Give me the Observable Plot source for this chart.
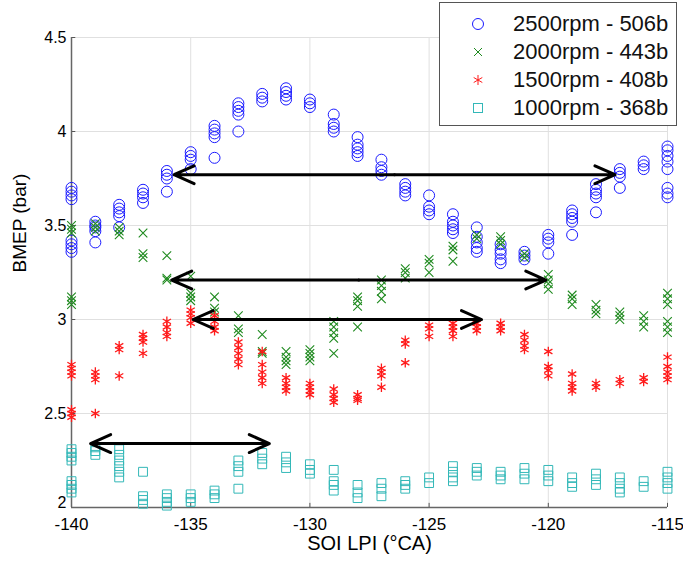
<!DOCTYPE html>
<html><head><meta charset="utf-8">
<script src="https://cdn.jsdelivr.net/npm/d3@7"></script>
<script src="https://cdn.jsdelivr.net/npm/@observablehq/plot@0.6"></script>
<style>
body{margin:0;background:#fff;font-family:"Liberation Sans",Arial,sans-serif;}
#wrap{position:relative;width:683px;height:564px;}
#legend{position:absolute;left:439px;top:2px;width:236px;height:122px;border:1px solid #555;background:#fff;}
.row{position:absolute;left:0;width:236px;height:28px;}
.row svg{position:absolute;left:28px;top:0;}
.row span{position:absolute;left:73px;top:0;line-height:28px;font-size:22px;color:#111;white-space:nowrap;}
</style>
</head><body>
<div id="wrap"><div id="chart"></div><div id="legend"></div></div>
<script>
// SOI LPI positions (°CA)
const soi = [-140,-139,-138,-137,-136,-135,-134,-133,-132,-131,-130,-129,-128,-127,-126,-125,-124,-123,-122,-121,-120,-119,-118,-117,-116,-115];

// BMEP (bar), several cycles per SOI position
const bmep2500 = [
 [3.70,3.68,3.66,3.64,3.42,3.40,3.38,3.36],
 [3.52,3.50,3.49,3.47,3.41],
 [3.61,3.59,3.57,3.55,3.49],
 [3.69,3.67,3.65,3.62],
 [3.79,3.77,3.75,3.68],
 [3.89,3.87,3.85,3.80],
 [4.03,4.01,3.99,3.97,3.86],
 [4.15,4.13,4.11,4.09,4.00],
 [4.20,4.18,4.16],
 [4.23,4.21,4.19,4.17],
 [4.17,4.15,4.13],
 [4.09,4.04,4.02,4.00],
 [3.97,3.93,3.91,3.89,3.87],
 [3.85,3.81,3.79,3.77],
 [3.72,3.70,3.68,3.66],
 [3.66,3.60,3.58,3.56],
 [3.56,3.52,3.50,3.48,3.46],
 [3.49,3.44,3.41,3.38,3.36],
 [3.40,3.37,3.35,3.32,3.30],
 [3.36,3.34,3.32],
 [3.45,3.43,3.41,3.35],
 [3.58,3.56,3.54,3.52,3.45],
 [3.72,3.69,3.67,3.65,3.57],
 [3.80,3.78,3.76,3.70],
 [3.84,3.82,3.80],
 [3.92,3.90,3.87,3.84,3.80,3.70,3.67,3.65]
];
const bmep2000 = [
 [3.50,3.48,3.46,3.12,3.10,3.08],
 [3.51,3.49,3.47],
 [3.49,3.47,3.45],
 [3.46,3.35,3.33],
 [3.34,3.22,3.21],
 [3.23,3.14,3.12,3.10],
 [3.12,3.06,3.04],
 [3.02,2.95,2.93],
 [2.92,2.83,2.82],
 [2.83,2.80,2.78,2.76],
 [2.84,2.82,2.80,2.78],
 [2.99,2.96,2.93,2.90,2.82],
 [3.12,3.10,3.07,2.96],
 [3.21,3.18,3.15,3.11],
 [3.27,3.25,3.22],
 [3.32,3.30,3.25],
 [3.39,3.37,3.31],
 [3.45,3.43],
 [3.44,3.42,3.40],
 [3.35,3.33],
 [3.24,3.21,3.19,3.16],
 [3.13,3.11,3.08],
 [3.08,3.05,3.03],
 [3.04,3.02,3.00],
 [3.02,2.99,2.96],
 [3.14,3.11,3.08,2.99,2.96,2.93]
];
const bmep1500 = [
 [2.76,2.74,2.72,2.70,2.52,2.50,2.48],
 [2.72,2.70,2.68,2.50],
 [2.86,2.84,2.70],
 [2.92,2.90,2.88,2.82],
 [2.99,2.96,2.93,2.91],
 [3.05,3.03,3.01,2.98],
 [3.02,2.99,2.96,2.94],
 [2.88,2.85,2.82,2.79,2.76],
 [2.83,2.76,2.72,2.69,2.66],
 [2.69,2.66,2.64,2.62],
 [2.66,2.64,2.62,2.60],
 [2.63,2.60,2.58,2.56],
 [2.60,2.58,2.57],
 [2.74,2.72,2.70,2.64],
 [2.89,2.87,2.77],
 [2.97,2.95,2.91],
 [2.98,2.96,2.94,2.91],
 [2.98,2.96,2.94],
 [2.98,2.96,2.94],
 [2.92,2.89,2.86,2.84],
 [2.83,2.75,2.73,2.70],
 [2.71,2.66,2.64,2.62],
 [2.66,2.64],
 [2.68,2.66],
 [2.69,2.67],
 [2.80,2.75,2.72,2.70,2.68]
];
const bmep1000 = [
 [2.31,2.29,2.27,2.25,2.14,2.12,2.10,2.08],
 [2.32,2.30,2.28],
 [2.31,2.28,2.25,2.22,2.19,2.16],
 [2.19,2.06,2.04,2.02],
 [2.07,2.05,2.03,2.01],
 [2.07,2.05,2.03],
 [2.09,2.07,2.05],
 [2.25,2.22,2.19,2.10],
 [2.29,2.26,2.23],
 [2.27,2.24,2.21],
 [2.23,2.20,2.18],
 [2.20,2.14,2.12,2.09],
 [2.12,2.08,2.05],
 [2.13,2.10,2.06],
 [2.14,2.12,2.10],
 [2.16,2.13],
 [2.22,2.19,2.16,2.14],
 [2.21,2.19,2.17],
 [2.19,2.17,2.15],
 [2.21,2.18,2.15],
 [2.20,2.17,2.14],
 [2.16,2.13,2.11],
 [2.18,2.15,2.12],
 [2.16,2.13,2.10,2.08],
 [2.14,2.11],
 [2.19,2.16,2.13,2.10]
];

// Series labels
const seriesNames = ["2500rpm - 506b","2000rpm - 443b","1500rpm - 408b","1000rpm - 368b"];

// Double-headed arrows: start SOI, end SOI, BMEP level
const arrowStart = [-135.7, -135.8, -134.9, -139.2];
const arrowEnd   = [-117.2, -120.1, -122.8, -131.7];
const arrowLevel = [3.77, 3.21, 3.00, 2.34];

// Tick values
const xTicks = [-140,-135,-130,-125,-120,-115];
const yTicks = [2,2.5,3,3.5,4,4.5];

function flatten(vals){
  const out=[];
  vals.forEach((arr,i)=>arr.forEach(v=>out.push({x:soi[i],y:v})));
  return out;
}
const d2500 = flatten(bmep2500), d2000 = flatten(bmep2000), d1500 = flatten(bmep1500), d1000 = flatten(bmep1000);

const arrowHalves = [];
arrowStart.forEach((s,i)=>{
  const m=(s+arrowEnd[i])/2;
  arrowHalves.push({x1:m,x2:s,y:arrowLevel[i]});
  arrowHalves.push({x1:m,x2:arrowEnd[i],y:arrowLevel[i]});
});

const colors = {c2500:"#1a1aff", c2000:"#1f8a1f", c1500:"#ff1a1a", c1000:"#33b8b8"};

const chart = Plot.plot({
  width:683, height:564,
  marginLeft:71, marginRight:16, marginTop:37, marginBottom:57,
  style:{fontFamily:"'Liberation Sans', Arial, sans-serif", fontSize:"16px", color:"#000", background:"transparent"},
  x:{domain:[-140,-115]},
  y:{domain:[2,4.5]},
  marks:[
    Plot.gridX(xTicks,{stroke:"#e0e0e0", strokeOpacity:1}),
    Plot.gridY(yTicks,{stroke:"#e0e0e0", strokeOpacity:1}),
    Plot.axisX(xTicks,{tickSize:0, tickPadding:10, tickFormat:d=>String(d), fontSize:17, label:null}),
    Plot.axisY(yTicks.slice(1),{tickSize:0, tickPadding:5, tickFormat:d=>String(d), fontSize:16, label:null}),
    Plot.axisY([yTicks[0]],{tickSize:0, tickPadding:5, dy:-5, tickFormat:d=>String(d), fontSize:16, label:null}),
    Plot.ruleX(xTicks,{y1:2, y2:2.022, stroke:"#555"}),
    Plot.ruleY(yTicks,{x1:-140, x2:-139.82, stroke:"#555"}),
    Plot.ruleX([-140],{stroke:"#666", strokeWidth:1.5}),
    Plot.ruleY([2],{stroke:"#666", strokeWidth:1.5}),
    Plot.dot(d2500,{x:"x", y:"y", r:5.5, stroke:colors.c2500, strokeWidth:1, fill:"none"}),
    Plot.dot(d2000,{x:"x", y:"y", r:4, symbol:"times", stroke:colors.c2000, strokeWidth:1.1}),
    Plot.dot(d1500,{x:"x", y:"y", r:4.5, symbol:"asterisk", stroke:colors.c1500, strokeWidth:1.3}),
    Plot.dot(d1000,{x:"x", y:"y", r:5, symbol:"square", stroke:colors.c1000, strokeWidth:1, fill:"none"}),
    Plot.arrow(arrowHalves,{x1:"x1", x2:"x2", y1:"y", y2:"y", stroke:"#000", strokeWidth:3, headLength:11, headAngle:48}),
    Plot.text(["SOI LPI (°CA)"],{frameAnchor:"bottom", dy:42, fontSize:20, fill:"#000"}),
    Plot.text(["BMEP (bar)"],{frameAnchor:"left", dx:-52, rotate:-90, fontSize:19, fill:"#000"})
  ]
});
document.getElementById("chart").appendChild(chart);

// Legend
const legend = document.getElementById("legend");
const legendMarks = [
  `<circle cx="10" cy="14" r="5.5" fill="none" stroke="${colors.c2500}"/>`,
  `<path d="M6,10L14,18M6,18L14,10" stroke="${colors.c2000}"/>`,
  `<path d="M10,9V19M5.7,11.5L14.3,16.5M5.7,16.5L14.3,11.5" stroke="${colors.c1500}"/>`,
  `<rect x="5.5" y="9.5" width="9" height="9" fill="none" stroke="${colors.c1000}"/>`
];
const rowTops = [7,35,63,91];
seriesNames.forEach((name,i)=>{
  const row=document.createElement("div");
  row.className="row"; row.style.top=rowTops[i]+"px";
  row.innerHTML=`<svg width="20" height="28">${legendMarks[i]}</svg><span>${name}</span>`;
  legend.appendChild(row);
});
</script>
</body></html>
